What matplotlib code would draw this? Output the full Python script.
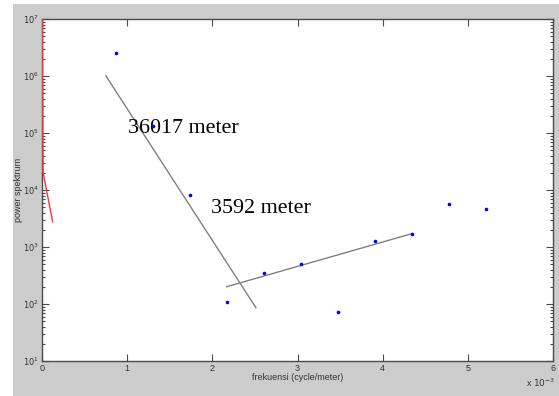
import math
import matplotlib
matplotlib.use("Agg")
import matplotlib.pyplot as plt
from matplotlib.ticker import FixedLocator, LogLocator, NullFormatter, FuncFormatter
from matplotlib.patches import Rectangle

# data (x in units of 1e-3 cycle/meter)
freq = [0.869, 1.303, 1.737, 2.171, 2.607, 3.043, 3.478, 3.908, 4.343, 4.777, 5.211]
power = [2.56e6, 1.33e5, 8170, 108, 346, 503, 71, 1290, 1690, 5680, 4580]

red_x = [0.006, 0.012, 0.125]
red_y = [1.2e7, 2.07e4, 2.75e3]

fit1_x = [0.751, 2.512]
fit1_y = [1.0e6, 86]
fit2_x = [2.168, 4.343]
fit2_y = [201, 1715]

xticks = [0, 1, 2, 3, 4, 5, 6]
yticks = [1e1, 1e2, 1e3, 1e4, 1e5, 1e6, 1e7]

label1 = "36017 meter"
label2 = "3592 meter"

W, H = 559, 396
fig = plt.figure(figsize=(W / 100, H / 100), dpi=100)
fig.patch.set_facecolor("white")
bg = Rectangle((13 / W, 0), 1 - 13 / W, 1 - 4 / H,
               transform=fig.transFigure, facecolor="#cccccc",
               edgecolor="none", zorder=-10)
fig.patches.append(bg)

ax = fig.add_axes([42 / W, 1 - 361 / H, (553 - 42) / W, (361 - 19) / H])
ax.set_zorder(1)
ax.set_facecolor("white")

ax.plot(red_x, red_y, color="#ff3333", lw=1.0, zorder=3)
ax.plot(fit1_x, fit1_y, color="#808080", lw=1.0, zorder=2)
ax.plot(fit2_x, fit2_y, color="#808080", lw=1.0, zorder=2)
ax.plot(freq, power, ".", color="blue", markersize=3.2, zorder=4)

ax.set_yscale("log")
ax.set_xlim(0, 6)
ax.set_ylim(1e1, 1e7)
ax.xaxis.set_major_locator(FixedLocator(xticks))
ax.yaxis.set_major_locator(FixedLocator(yticks))
ax.yaxis.set_minor_locator(LogLocator(base=10, subs=range(2, 10), numticks=20))
ax.yaxis.set_minor_formatter(NullFormatter())
ax.yaxis.set_major_formatter(FuncFormatter(lambda v, p: r"$10^{%d}$" % round(math.log10(v))))
ax.xaxis.set_major_formatter(FuncFormatter(lambda v, p: "%d" % v))

tc = "#4a4a4a"
ax.tick_params(axis="both", which="both", direction="in", top=True, right=True,
               colors=tc, labelcolor="#333333", labelsize=6.5, width=0.8)
ax.tick_params(axis="y", which="major", labelsize=6)
ax.tick_params(axis="both", which="major", length=5, pad=2)
ax.tick_params(axis="y", which="minor", length=2.5)
for lab in ax.get_xticklabels() + ax.get_yticklabels():
    lab.set_fontfamily("Liberation Sans")
for s in ax.spines.values():
    s.set_color(tc)
    s.set_linewidth(1.0)

ax.set_xlabel("frekuensi (cycle/meter)", fontsize=6.5, color="#333333",
              family="Liberation Sans")
ax.xaxis.set_label_coords(0.5, -(373 - 361) / 342)
ax.set_ylabel("power spektrum", fontsize=6.5, color="#333333",
              family="Liberation Sans")
ax.yaxis.set_label_coords(-(42 - 23) / 511, 0.5)

fig.text(555 / W, 1 - 387 / H, r"x $10^{-3}$", fontsize=6.5, color="#333333",
         family="Liberation Sans", va="baseline", ha="right")

ax.text(1.015, 1.0e5, label1, fontsize=15.8, family="Liberation Serif",
        color="black", va="baseline", ha="left")
ax.text(1.985, 3.95e3, label2, fontsize=15.8, family="Liberation Serif",
        color="black", va="baseline", ha="left")

fig.savefig("out.png", dpi=100)
